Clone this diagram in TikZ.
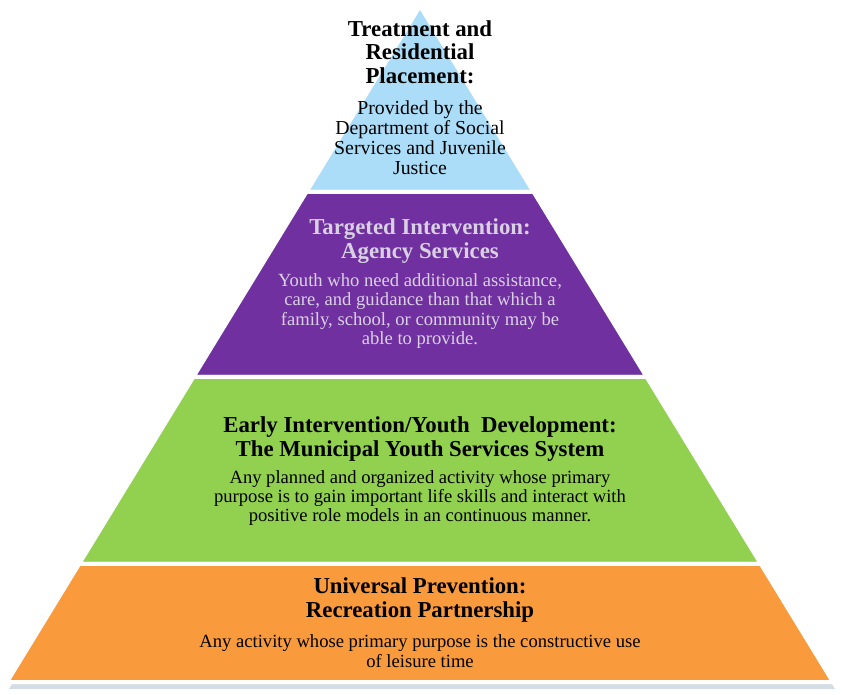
\documentclass[tikz,border=0pt]{standalone}
\usepackage{fontspec}
\setmainfont{Liberation Serif}
\usetikzlibrary{calc}
\definecolor{tierblue}{HTML}{ABDDF8}
\definecolor{tierpurple}{HTML}{7030A0}
\definecolor{tiergreen}{HTML}{92D050}
\definecolor{tierorange}{HTML}{F99B3C}
\definecolor{lavtext}{HTML}{D9D1E3}
\definecolor{pyrshadow}{HTML}{9FB1C4}

\begin{document}
\begin{tikzpicture}[x=1pt, y=-1pt,
  tier/.style={draw=white, line width=4pt, line join=round},
  ttl/.style={font=\bfseries\fontsize{22.8}{23.5}\selectfont, align=center, inner sep=0pt},
  txt/.style={font=\fontsize{18.6}{19.3}\selectfont, align=center, inner sep=0pt},
  toptxt/.style={font=\fontsize{19.8}{20}\selectfont, align=center, inner sep=0pt}
]
\useasboundingbox (0,0) rectangle (844,695);
\coordinate (apex) at (420,6);
\coordinate (bl) at (7,682);
\coordinate (br) at (833,682);
% cut points on both sides
\coordinate (l1) at ($(apex)!0.2751!(bl)$);
\coordinate (r1) at ($(apex)!0.2751!(br)$);
\coordinate (l2) at ($(apex)!0.5488!(bl)$);
\coordinate (r2) at ($(apex)!0.5488!(br)$);
\coordinate (l3) at ($(apex)!0.8254!(bl)$);
\coordinate (r3) at ($(apex)!0.8254!(br)$);

% shadow
\fill[pyrshadow, opacity=0.45] ($(apex)+(-1,4)$) -- ($(bl)+(2,7)$) -- ($(br)+(2,7)$) -- cycle;

% tiers
\filldraw[tier, fill=tierblue] (apex) -- (l1) -- (r1) -- cycle;
\filldraw[tier, fill=tierpurple] (l1) -- (l2) -- (r2) -- (r1) -- cycle;
\filldraw[tier, fill=tiergreen] (l2) -- (l3) -- (r3) -- (r2) -- cycle;
\filldraw[tier, fill=tierorange] (l3) -- (bl) -- (br) -- (r3) -- cycle;

% texts
\node[ttl] (treatT) at (420,52) {Treatment and\\Residential\\Placement:};
\node[toptxt] (treatB) at (420,138) {Provided by the\\Department of Social\\Services and Juvenile\\Justice};

\node[ttl, text=lavtext] (targT) at (420,241) {Targeted Intervention:\\Agency Services};
\node[txt, text=lavtext] (targB) at (420,311) {Youth who need additional assistance,\\care, and guidance than that which a\\family, school, or community may be\\able to provide.};

\node[ttl] (earlyT) at (420,439) {Early Intervention/Youth\ \ Development:\\The Municipal Youth Services System};
\node[txt] (earlyB) at (420,498) {Any planned and organized activity whose primary\\purpose is to gain important life skills and interact with\\positive role models in an continuous manner.};

\node[ttl] (univT) at (420,600) {Universal Prevention:\\Recreation Partnership};
\node[txt] (univB) at (420,651) {Any activity whose primary purpose is the constructive use\\of leisure time};
\end{tikzpicture}
\end{document}
